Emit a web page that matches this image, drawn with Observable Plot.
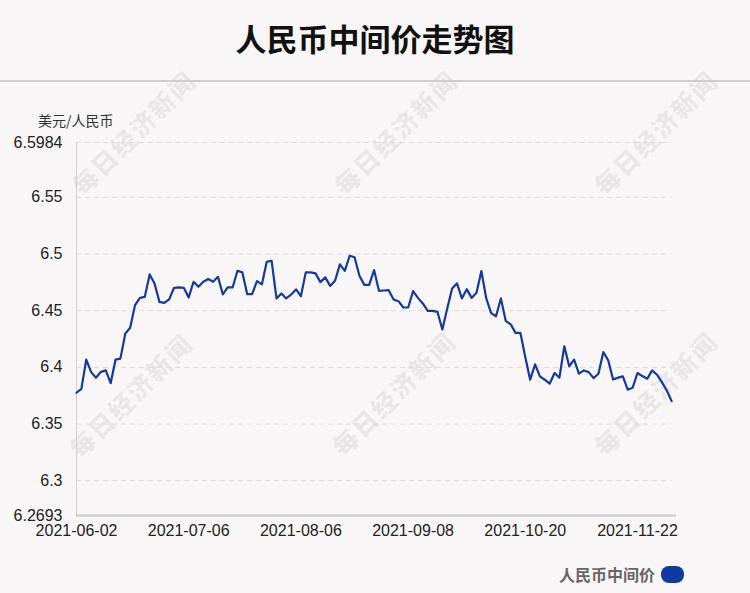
<!DOCTYPE html>
<html>
<head>
<meta charset="utf-8">
<script src="https://cdn.jsdelivr.net/npm/d3@7"></script>
<script src="https://cdn.jsdelivr.net/npm/@observablehq/plot@0.6"></script>
<style>
  html, body { margin: 0; padding: 0; background: #f9f6f7; }
  #wrap { position: relative; width: 750px; height: 593px; background: #f9f6f7; overflow: hidden;
          font-family: "Liberation Sans", Arial, "Noto Sans CJK SC", sans-serif; }
  #title { position: absolute; left: 0; top: 14px; width: 750px; text-align: center;
           font-family: "Noto Sans CJK SC", sans-serif; font-weight: 700; font-size: 31px; color: #111; line-height: 48px; }
  #divider { position: absolute; left: 0; top: 80px; width: 750px; height: 0; border-top: 2px solid #cfcccd; }
  #unit { position: absolute; left: 38px; top: 110px; font-family: "Noto Sans CJK SC", sans-serif; font-size: 14px; color: #333; line-height: 20px; }
  #chart { position: absolute; left: 0; top: 100px; }
  #legend { position: absolute; right: 66px; top: 562px; display: flex; align-items: center; gap: 6px;
            font-family: "Noto Sans CJK SC", sans-serif; font-size: 16px; font-weight: 700; color: #666; }
  #legend .sw { width: 23px; height: 17px; border-radius: 8px; background: #0f3a9f; }
  .wm { position: absolute; font-family: "Noto Sans CJK SC", sans-serif; font-weight: 900; font-size: 25px;
        color: rgba(0,0,0,0.075); transform: translate(-50%, -50%) rotate(-45deg); white-space: nowrap; letter-spacing: 2px; }
</style>
</head>
<body>
<div id="wrap">
  <div class="wm" style="left:133px;top:132px">每日经济新闻</div>
  <div class="wm" style="left:395px;top:132px">每日经济新闻</div>
  <div class="wm" style="left:655px;top:132px">每日经济新闻</div>
  <div class="wm" style="left:130px;top:395px">每日经济新闻</div>
  <div class="wm" style="left:393px;top:393px">每日经济新闻</div>
  <div class="wm" style="left:655px;top:393px">每日经济新闻</div>
  <div id="title">人民币中间价走势图</div>
  <div id="divider"></div>
  <div id="unit">美元/人民币</div>
  <div id="chart"></div>
  <div id="legend"><span>人民币中间价</span><span class="sw"></span></div>
</div>
<script>
const dates = [
  "2021-06-02","2021-06-03","2021-06-04","2021-06-07","2021-06-08","2021-06-09","2021-06-10","2021-06-11",
  "2021-06-15","2021-06-16","2021-06-17","2021-06-18","2021-06-21","2021-06-22","2021-06-23","2021-06-24",
  "2021-06-25","2021-06-28","2021-06-29","2021-06-30","2021-07-01","2021-07-02","2021-07-05","2021-07-06",
  "2021-07-07","2021-07-08","2021-07-09","2021-07-12","2021-07-13","2021-07-14","2021-07-15","2021-07-16",
  "2021-07-19","2021-07-20","2021-07-21","2021-07-22","2021-07-23","2021-07-26","2021-07-27","2021-07-28",
  "2021-07-29","2021-07-30","2021-08-02","2021-08-03","2021-08-04","2021-08-05","2021-08-06","2021-08-09",
  "2021-08-10","2021-08-11","2021-08-12","2021-08-13","2021-08-16","2021-08-17","2021-08-18","2021-08-19",
  "2021-08-20","2021-08-23","2021-08-24","2021-08-25","2021-08-26","2021-08-27","2021-08-30","2021-08-31",
  "2021-09-01","2021-09-02","2021-09-03","2021-09-06","2021-09-07","2021-09-08","2021-09-09","2021-09-10",
  "2021-09-13","2021-09-14","2021-09-15","2021-09-16","2021-09-17","2021-09-22","2021-09-23","2021-09-24",
  "2021-09-27","2021-09-28","2021-09-29","2021-09-30","2021-10-08","2021-10-11","2021-10-12","2021-10-13",
  "2021-10-14","2021-10-15","2021-10-18","2021-10-19","2021-10-20","2021-10-21","2021-10-22","2021-10-25",
  "2021-10-26","2021-10-27","2021-10-28","2021-10-29","2021-11-01","2021-11-02","2021-11-03","2021-11-04",
  "2021-11-05","2021-11-08","2021-11-09","2021-11-10","2021-11-11","2021-11-12","2021-11-15","2021-11-16",
  "2021-11-17","2021-11-18","2021-11-19","2021-11-22","2021-11-23","2021-11-24","2021-11-25","2021-11-26",
  "2021-11-29","2021-11-30","2021-12-01"
];
const values = [
  6.3776,6.3810,6.4068,6.3958,6.3909,6.3960,6.3973,6.3860,6.4068,6.4077,
  6.4298,6.4350,6.4549,6.4613,6.4622,6.4820,6.4740,6.4578,6.4569,6.4600,
  6.4702,6.4705,6.4702,6.4617,6.4755,6.4711,6.4755,6.4779,6.4755,6.4799,
  6.4643,6.4705,6.4705,6.4852,6.4838,6.4646,6.4646,6.4761,6.4732,6.4932,
  6.4940,6.4608,6.4652,6.4608,6.4643,6.4688,6.4628,6.4838,6.4838,6.4829,
  6.4752,6.4794,6.4719,6.4764,6.4909,6.4852,6.4985,6.4971,6.4808,6.4728,
  6.4728,6.4858,6.4675,6.4678,6.4681,6.4599,6.4584,6.4528,6.4528,6.4673,
  6.4613,6.4564,6.4498,6.4498,6.4489,6.4334,6.4519,6.4696,6.4741,6.4608,
  6.4690,6.4613,6.4658,6.4850,6.4608,6.4478,6.4451,6.4608,6.4410,6.4380,
  6.4304,6.4304,6.4091,6.3891,6.4027,6.3920,6.3891,6.3856,6.3950,6.3909,
  6.4186,6.4009,6.4068,6.3944,6.3973,6.3958,6.3905,6.3944,6.4135,6.4062,
  6.3894,6.3909,6.3920,6.3803,6.3820,6.3950,6.3923,6.3900,6.3973,6.3935,
  6.3870,6.3796,6.3702
];
const xTickLabels = ["2021-06-02","2021-07-06","2021-08-06","2021-09-08","2021-10-20","2021-11-22"];
const yTickLabels = ["6.5984","6.55","6.5","6.45","6.4","6.35","6.3","6.2693"];
const yMin = 6.2693, yMax = 6.5984;

const data = dates.map((d, i) => ({i, date: d, v: values[i]}));
const xTicks = xTickLabels.map(l => dates.indexOf(l));
const yTicks = yTickLabels.map(Number);
const gridTicks = yTicks.filter(t => t > yMin);
const lastIdx = dates.length - 1;

const chart = Plot.plot({
  width: 750,
  height: 460,
  marginLeft: 76,
  marginRight: 74,
  marginTop: 42,
  marginBottom: 45,
  style: {background: "transparent", fontFamily: "'Liberation Sans', Arial, sans-serif", fontSize: "16px", color: "#222", overflow: "visible"},
  x: {type: "linear", domain: [0, dates.length], axis: null, label: null},
  y: {domain: [yMin, yMax], axis: null, label: null},
  marks: [
    Plot.ruleY(gridTicks, {x1: 0, x2: lastIdx, stroke: "#dcdcdc", strokeWidth: 1, strokeDasharray: "5,4"}),
    Plot.ruleX([0], {y1: yMin, y2: yMax, stroke: "#d0d0d0", strokeWidth: 1}),
    Plot.ruleY([yMin], {x1: 0, x2: dates.length, stroke: "#cfcfcf", strokeWidth: 2.5}),
    Plot.line(data, {x: "i", y: "v", stroke: "#17399d", strokeWidth: 2.2, strokeLinejoin: "round"}),
    Plot.axisY(yTicks, {tickSize: 0, tickPadding: 14, label: null, tickFormat: (d, k) => yTickLabels[k], fill: "#222", fontSize: 16}),
    Plot.axisX(xTicks, {tickSize: 0, tickPadding: 9, label: null, tickFormat: i => dates[i], fill: "#222", fontSize: 16})
  ]
});
document.getElementById("chart").appendChild(chart);
</script>
</body>
</html>
